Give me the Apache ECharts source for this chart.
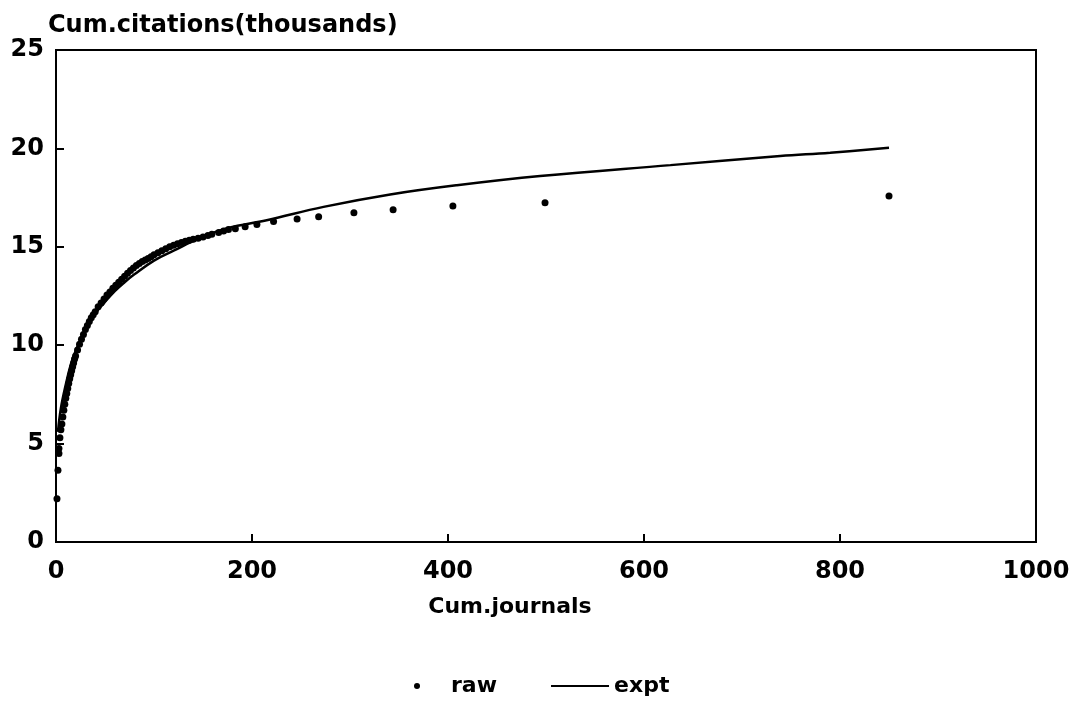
<!DOCTYPE html>
<html>
<head>
<meta charset="utf-8">
<script src="https://cdn.jsdelivr.net/npm/echarts@6/dist/echarts.min.js"></script>
<style>
  html, body { margin: 0; padding: 0; background: #fff; }
  #main { width: 1077px; height: 701px; }
</style>
</head>
<body>
<div id="main"></div>
<script>
// cumulative journals vs cumulative citations (thousands)
var rawPoints = [
  [1, 2.2], [2, 3.65], [3, 4.5], [3, 4.75], [4, 5.3], [5, 5.7], [6, 6.0], [7, 6.35],
  [8, 6.7], [9, 7.0], [10, 7.3], [11, 7.55], [12, 7.8], [13, 8.05], [14, 8.3], [15, 8.5],
  [16, 8.7], [17, 8.9], [18, 9.1], [19, 9.3], [20, 9.45], [22, 9.75], [24, 10.05], [26, 10.3],
  [28, 10.55], [30, 10.8], [32, 11.0], [34, 11.2], [36, 11.4], [38, 11.55], [40, 11.7],
  [43, 11.95], [46, 12.15], [49, 12.35], [52, 12.55], [55, 12.7], [58, 12.9], [61, 13.05],
  [64, 13.2], [67, 13.35], [70, 13.5], [73, 13.65], [76, 13.8], [79, 13.92], [82, 14.05],
  [85, 14.15], [88, 14.25], [91, 14.33], [94, 14.4], [97, 14.5], [100, 14.6], [104, 14.7],
  [108, 14.8], [112, 14.9], [116, 15.0], [120, 15.08], [124, 15.15], [128, 15.22],
  [132, 15.28], [136, 15.33], [140, 15.38], [145, 15.44], [150, 15.5], [155, 15.58],
  [159, 15.64], [166, 15.73], [171, 15.8], [176, 15.88], [183, 15.92], [193, 16.02],
  [205, 16.13], [222, 16.29], [246, 16.41], [268, 16.53], [304, 16.73], [344, 16.88],
  [405, 17.07], [499, 17.24], [850, 17.58]
];
var exptPoints = [
  [2, 5.6], [5, 6.8], [10, 8.0], [15, 9.0], [20, 9.7], [30, 10.8], [40, 11.6], [50, 12.2],
  [60, 12.75], [70, 13.2], [80, 13.6], [100, 14.3], [120, 14.8], [147, 15.45], [175, 15.95],
  [215, 16.35], [273, 17.03], [341, 17.66], [409, 18.13], [494, 18.6], [627, 19.15],
  [739, 19.61], [790, 19.78], [850, 20.03]
];
var xTicks = [0, 1000, 200];
var yTicks = [0, 25, 5];

var font = 'DejaVu Sans';
var chart = echarts.init(document.getElementById('main'));
var option = {
  backgroundColor: '#fff',
  animation: false,
  grid: {
    left: 56, right: 41, top: 50, bottom: 159,
    show: true, borderColor: '#000', borderWidth: 2
  },
  legend: {
    left: 409, top: 670,
    itemWidth: 58, itemHeight: 6, itemGap: 54,
    textStyle: { fontFamily: font, fontWeight: 'bold', fontSize: 22, color: '#000' },
    data: [
      { name: 'raw', icon: 'circle' },
      { name: 'expt', icon: 'path://M0,0H58V2H0Z', itemStyle: { color: '#000' } }
    ]
  },
  xAxis: {
    type: 'value',
    min: xTicks[0], max: xTicks[1], interval: xTicks[2],
    name: 'Cum.journals',
    nameLocation: 'middle',
    nameGap: 54,
    nameTextStyle: { fontFamily: font, fontWeight: 'bold', fontSize: 22, color: '#000', padding: [0, 72, 0, 0] },
    axisLine: { show: true, lineStyle: { color: '#000', width: 2 } },
    axisTick: { show: true, inside: true, length: 8, lineStyle: { color: '#000', width: 2 } },
    axisLabel: {
      margin: 18, fontFamily: font, fontWeight: 'bold', fontSize: 24, color: '#000',
      formatter: function (v) { return String(v); }
    },
    splitLine: { show: false }
  },
  yAxis: {
    type: 'value',
    min: yTicks[0], max: yTicks[1], interval: yTicks[2],
    name: 'Cum.citations(thousands)',
    nameLocation: 'end',
    nameGap: 12,
    nameTextStyle: { fontFamily: font, fontWeight: 'bold', fontSize: 24, color: '#000', align: 'left', padding: [0, 0, 0, -8] },
    axisLine: { show: true, lineStyle: { color: '#000', width: 2 } },
    axisTick: { show: true, inside: true, length: 8, lineStyle: { color: '#000', width: 2 } },
    axisLabel: { margin: 12, fontFamily: font, fontWeight: 'bold', fontSize: 24, color: '#000' },
    splitLine: { show: false }
  },
  series: [
    {
      name: 'raw',
      type: 'scatter',
      symbol: 'circle',
      symbolSize: 7,
      itemStyle: { color: '#000', opacity: 1 },
      data: rawPoints
    },
    {
      name: 'expt',
      type: 'line',
      smooth: 0.4,
      symbol: 'none',
      lineStyle: { color: '#000', width: 2.5 },
      itemStyle: { color: '#000' },
      data: exptPoints
    }
  ]
};
chart.setOption(option);
window.onresize = chart.resize;
</script>
</body>
</html>
